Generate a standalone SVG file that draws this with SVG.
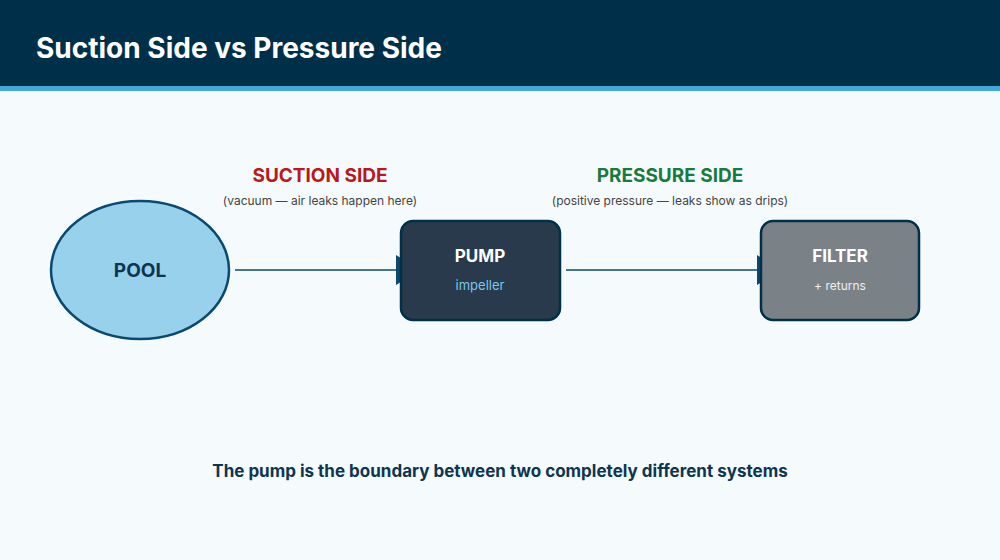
<svg xmlns="http://www.w3.org/2000/svg" width="1000" height="560" viewBox="0 0 1000 560">
<style>
text{font-family:Inter,"Open Sans","Liberation Sans",sans-serif;}
.b{font-weight:700;}
.line{stroke:#0a4a70;stroke-width:1.5;fill:none;}
</style>
<defs>
<marker id="ah" markerWidth="24" markerHeight="30" refX="23" refY="15" orient="auto" markerUnits="userSpaceOnUse">
<path d="M0,0 L24,15 L0,30 Z" fill="#0a4a70"/>
</marker>
</defs>
<rect width="1000" height="560" fill="#f5fafd"/>
<rect width="1000" height="86" fill="#003049"/>
<rect y="86" width="1000" height="5" fill="#3fa9de"/>
<text x="36" y="58" font-size="28" class="b" fill="#ffffff">Suction Side vs Pressure Side</text>
<text x="320" y="182" font-size="19" class="b" fill="#b8191c" text-anchor="middle">SUCTION SIDE</text>
<text x="320" y="205" font-size="12" fill="#444" text-anchor="middle">(vacuum — air leaks happen here)</text>
<text x="670" y="182" font-size="19" class="b" fill="#197a3e" text-anchor="middle">PRESSURE SIDE</text>
<text x="670" y="205" font-size="12" fill="#444" text-anchor="middle">(positive pressure — leaks show as drips)</text>
<g id="connectors">
<line class="line" x1="235" y1="270" x2="419" y2="270" marker-end="url(#ah)"/>
<line class="line" x1="566" y1="270" x2="780" y2="270" marker-end="url(#ah)"/>
</g>
<g id="pool">
<ellipse cx="140" cy="270" rx="89" ry="69" fill="#98d1eb" stroke="#0a4a70" stroke-width="2.5"/>
<text x="140" y="277" font-size="19" class="b" fill="#0d3550" text-anchor="middle">POOL</text>
</g>
<g id="pump">
<rect x="401" y="221" width="159" height="99" rx="12" fill="#283a4b" stroke="#003049" stroke-width="2.5"/>
<text x="480" y="262" font-size="17" class="b" fill="#ffffff" text-anchor="middle">PUMP</text>
<text x="480" y="290" font-size="13" fill="#7cc7ea" text-anchor="middle">impeller</text>
</g>
<g id="filter">
<rect x="761" y="221" width="158" height="99" rx="12" fill="#7b8287" stroke="#003049" stroke-width="2.5"/>
<text x="840" y="262" font-size="17" class="b" fill="#ffffff" text-anchor="middle">FILTER</text>
<text x="840" y="290" font-size="12" fill="#eef0f2" text-anchor="middle">+ returns</text>
</g>
<text x="500" y="477" font-size="17" class="b" fill="#0d3550" text-anchor="middle">The pump is the boundary between two completely different systems</text>
</svg>
